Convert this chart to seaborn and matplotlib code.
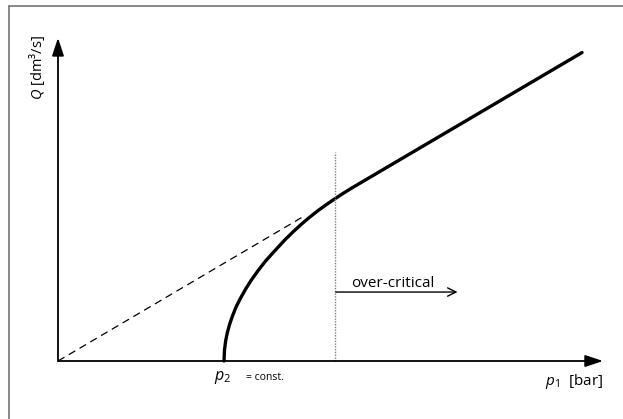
import matplotlib
matplotlib.use("Agg")
import matplotlib.pyplot as plt
import seaborn as sns
import pandas as pd
from matplotlib.lines import Line2D

sns.set_theme(style="white")
plt.rcParams["font.family"] = ["Open Sans", "DejaVu Sans"]
plt.rcParams["text.color"] = "black"
plt.rcParams["mathtext.fontset"] = "custom"
plt.rcParams["mathtext.it"] = "Open Sans:italic"
plt.rcParams["mathtext.rm"] = "Open Sans"

# Sub-critical branch: flow rises from p2 and blends into the proportional line
p1_sub = [3.0, 3.01, 3.03, 3.06, 3.1, 3.15, 3.22, 3.3, 3.4, 3.5, 3.62, 3.75,
          3.9, 4.1, 4.25, 4.4, 4.55, 4.7, 4.85, 5.0, 5.15, 5.3]
q_sub = [0.0, 0.21, 0.37, 0.52, 0.67, 0.82, 1.0, 1.16, 1.34, 1.5, 1.67, 1.84,
         2.01, 2.23, 2.38, 2.52, 2.65, 2.77, 2.88, 2.985, 3.085, 3.18]

# Over-critical branch: flow proportional to p1
p1_over = [5.3, 9.47]
q_over = [3.18, 5.68]

# Extension of the proportional line back to the origin
p1_ext = [0.0, 4.45]
q_ext = [0.0, 2.67]

p2_value = 3.0
p1_critical = 5.0
critical_top = 3.85

curve = pd.DataFrame({"p1": p1_sub + p1_over[1:], "Q": q_sub + q_over[1:]})
extension = pd.DataFrame({"p1": p1_ext, "Q": q_ext})

fig = plt.figure(figsize=(6.23, 4.19), dpi=100)
ax = fig.add_axes([0, 0, 1, 1])
ax.set_xlim(-1.048, 10.211)
ax.set_ylim(-1.068, 6.648)
ax.axis("off")

# Frame around the figure (left and top edges visible)
fig.add_artist(Line2D([9 / 623, 9 / 623], [0, 1 - 6 / 419], color="#7f7f7f", lw=1.3))
fig.add_artist(Line2D([9 / 623, 1], [1 - 6 / 419, 1 - 6 / 419], color="#7f7f7f", lw=1.3))

sns.lineplot(data=extension, x="p1", y="Q", ax=ax, color="black", lw=0.9,
             linestyle=(0, (6, 4)), estimator=None, sort=False)
sns.lineplot(data=curve, x="p1", y="Q", ax=ax, color="black", lw=2.4,
             estimator=None, sort=False, solid_joinstyle="round")

ax.plot([p1_critical, p1_critical], [0, critical_top], color="#808080",
        lw=1.0, linestyle=(0, (1, 1)))

# Coordinate axes with arrowheads
ax.annotate("", xy=(9.85, 0), xytext=(0, 0),
            arrowprops=dict(arrowstyle="-|>,head_length=0.9,head_width=0.3",
                            color="black", lw=1.3, shrinkA=0, shrinkB=0))
ax.annotate("", xy=(0, 5.95), xytext=(0, 0),
            arrowprops=dict(arrowstyle="-|>,head_length=0.9,head_width=0.3",
                            color="black", lw=1.3, shrinkA=0, shrinkB=0))

# Over-critical region marker
ax.annotate("", xy=(7.22, 1.27), xytext=(5.02, 1.27),
            arrowprops=dict(arrowstyle="->,head_length=0.5,head_width=0.25",
                            color="black", lw=1.0, shrinkA=0, shrinkB=0))
ax.text(6.05, 1.36, "over-critical", ha="center", va="baseline", fontsize=11)

ax.text(p2_value - 0.02, -0.35, "$p_2$", ha="center", va="baseline", fontsize=11.5)
ax.text(3.40, -0.35, "= const.", ha="left", va="baseline", fontsize=7.5)
ax.text(9.85, -0.44, "$p_1$  [bar]", ha="right", va="baseline", fontsize=11)
ax.text(-0.38, 6.0, "$Q$ [dm³/s]", ha="center", va="top", rotation=90,
        fontsize=10.5)

fig.savefig("out.png", dpi=100)
